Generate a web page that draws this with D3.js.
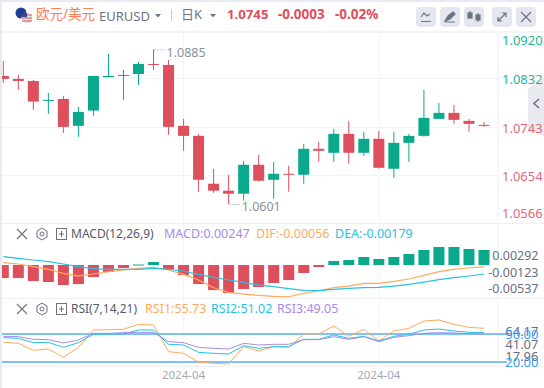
<!DOCTYPE html>
<html>
<head>
<meta charset="utf-8">
<script src="https://cdn.jsdelivr.net/npm/d3@7"></script>
<style>
html, body { margin: 0; padding: 0; background: #fff; overflow: hidden; }
text { font-family: "Noto Sans", "Noto Sans CJK SC", sans-serif; }
</style>
</head>
<body>
<div id="chart"></div>
<script>
const opens = [1.08361,1.08306,1.08269,1.07903,1.07939,1.07445,1.07725,1.08337,1.08361,1.08397,1.08581,1.08562,1.07445,1.07261,1.06382,1.06254,1.06199,1.0673,1.06455,1.06565,1.06547,1.07023,1.0695,1.07298,1.0695,1.07207,1.06657,1.07133,1.07261,1.07573,1.07683,1.07536,1.07463];
const closes = [1.08306,1.08269,1.0789,1.07921,1.07426,1.07701,1.08361,1.08361,1.08379,1.08581,1.08562,1.07426,1.07261,1.06455,1.06254,1.06199,1.0673,1.06437,1.06565,1.06547,1.07023,1.06987,1.07298,1.0695,1.07207,1.06675,1.07133,1.07261,1.07591,1.07683,1.07555,1.07481,1.07445];
const highs = [1.08635,1.08379,1.08287,1.08049,1.07994,1.07793,1.08361,1.08764,1.08471,1.08617,1.0885,1.08654,1.07573,1.07298,1.06657,1.06547,1.06803,1.06913,1.06785,1.06712,1.07115,1.07152,1.0739,1.07536,1.07335,1.07353,1.07335,1.07298,1.08104,1.07866,1.07829,1.07573,1.07518];
const lows = [1.08232,1.08104,1.07738,1.07665,1.07316,1.07243,1.07628,1.08337,1.07921,1.08196,1.08471,1.0728,1.06987,1.06236,1.06217,1.0601,1.06071,1.06419,1.06107,1.06236,1.06382,1.06785,1.06785,1.06749,1.06895,1.06657,1.06492,1.06785,1.07243,1.07573,1.07481,1.07335,1.07426];

const macdBars = [-.00215,-.00215,-.00264,-.0028,-.0033,-.00314,-.00198,-.00116,-.0005,.00008,.0005,-.00066,-.00165,-.00314,-.00413,-.00462,-.00396,-.00363,-.00297,-.00248,-.00132,-.00033,.00066,.00083,.00132,.00099,.00132,.00182,.00248,.00297,.00297,.00264,.00247];
const difLine = [.000385,.000165,-.000275,-.000715,-.001375,-.001815,-.001485,-.0011,-.000825,-.00055,-.000385,-.000825,-.00154,-.002475,-.00374,-.00451,-.004785,-.005005,-.00517,-.005225,-.004675,-.004235,-.00374,-.003465,-.003025,-.003025,-.002695,-.00231,-.001705,-.0011,-.000715,-.000495,-.000275];
const deaLine = [.001375,.0011,.000825,.00055,.000165,-.000275,-.000605,-.000715,-.000715,-.000715,-.00055,-.000715,-.00099,-.00154,-.002035,-.002475,-.00286,-.0033,-.003575,-.003905,-.00418,-.004235,-.004015,-.00385,-.00374,-.003685,-.003465,-.00319,-.002805,-.00242,-.00209,-.001815,-.001485];

const rsi1 = [41.07,40,32.5,33.93,25,35.71,54.29,54.64,55,60.36,59.64,31.07,29.29,19.64,18.57,17.86,36.43,31.79,36.43,35.71,50,50,58.57,47.5,55,42.5,53.21,56.07,63.93,65,60.36,57.14,56.07];
const rsi2 = [46.07,45.36,40.71,41.07,35.71,40.71,49.64,50,50,54.29,54.29,38.93,38.21,30.36,29.29,28.57,37.5,34.64,36.43,36.43,44.29,44.29,48.93,45.36,47.5,42.5,47.5,49.64,54.29,55.36,53.21,51.79,51.43];
const rsi3 = [47.5,47.14,44.29,43.93,40.36,43.57,50.71,50.71,51.43,51.79,51.79,41.79,40.71,35.71,34.64,33.93,40,38.21,38.93,38.93,43.93,43.93,47.14,44.29,47.14,41.79,46.43,48.21,50.71,51.43,51.07,50.36,49.64];
const rsiLevels = [50, 20];

const priceTicks = [1.0920, 1.0832, 1.0743, 1.0654, 1.0566];
const macdTicks = ["0.00292", "-0.00123", "-0.00537"];
const rsiTicks = ["64.17", "41.07", "17.96", "50.00", "20.00"];
const dateTicks = [{ i: 12, label: "2024-04" }, { i: 25, label: "2024-04" }];
const buttonXs = [416, 440, 464, 492, 516];

const width = 544, height = 388;
const UP = "#0aa98c", DOWN = "#dd4f5c";
const ORANGE = "#ffa95e", CYAN = "#27c3df", PURPLE = "#a78be6";
const GRID = "#f3f4f7";

const svg = d3.select("#chart").append("svg")
    .attr("width", width).attr("height", height)
    .style("display", "block");

const x = d3.scaleLinear().domain([0, 32]).range([3.3, 484]);
const y = d3.scaleLinear().domain([1.0885, 1.0601]).range([49.3, 204]);
const yMacd = d3.scaleLinear().domain([0, 0.00247]).range([265, 250]);
const yRsi = d3.scaleLinear().domain([20, 50]).range([362, 334]);
const yMacdTick = d3.scalePoint().domain(macdTicks).range([256, 289]);

// grid + panel frames
const grid = svg.append("g");
grid.selectAll(".h").data(priceTicks.slice(1, 4)).enter().append("line")
    .attr("x1", 2).attr("x2", 498)
    .attr("y1", d => Math.round(y(d)) + 0.5).attr("y2", d => Math.round(y(d)) + 0.5)
    .attr("stroke", GRID);
grid.selectAll(".v").data(dateTicks).enter().append("line")
    .attr("x1", d => x(d.i)).attr("x2", d => x(d.i))
    .attr("y1", 33).attr("y2", 366)
    .attr("stroke", GRID);
[223.5, 298.5, 366.5].forEach(v => {
    grid.append("line").attr("x1", 2).attr("x2", 544).attr("y1", v).attr("y2", v).attr("stroke", "#eff0f4");
});
grid.append("line").attr("x1", 498).attr("x2", 498).attr("y1", 33).attr("y2", 366).attr("stroke", "#eff0f4");
grid.append("line").attr("x1", 2).attr("x2", 544).attr("y1", 32).attr("y2", 32).attr("stroke", "#f3f4f7").attr("stroke-width", 2);

// candles
const idx = d3.range(opens.length);
const candle = svg.append("g").selectAll("g").data(idx).enter().append("g")
    .attr("fill", i => closes[i] >= opens[i] ? UP : DOWN)
    .attr("stroke", i => closes[i] >= opens[i] ? UP : DOWN);
candle.append("line")
    .attr("x1", i => x(i)).attr("x2", i => x(i))
    .attr("y1", i => y(highs[i])).attr("y2", i => y(lows[i]))
    .attr("stroke-width", 1);
candle.append("rect")
    .attr("x", i => x(i) - 5.5).attr("width", 11)
    .attr("y", i => y(Math.max(opens[i], closes[i])))
    .attr("height", i => Math.max(1, Math.abs(y(opens[i]) - y(closes[i]))))
    .attr("stroke", "none");

// high / low markers
const markers = [
    { i: d3.maxIndex(highs), v: d3.max(highs), label: "1.0885" },
    { i: d3.minIndex(lows), v: d3.min(lows), label: "1.0601" }
];
markers.forEach(m => {
    svg.append("line")
        .attr("x1", x(m.i) + 1).attr("x2", x(m.i) + 11)
        .attr("y1", y(m.v) + 0.5).attr("y2", y(m.v) + 0.5)
        .attr("stroke", "#8b8f9b").attr("stroke-dasharray", "1 2");
    svg.append("text")
        .attr("x", x(m.i) + 13).attr("y", y(m.v) + 3)
        .attr("dy", "0.35em")
        .attr("font-size", 12.5).attr("fill", "#8b8f9b")
        .text(m.label);
});

// collapse tab on the right
svg.append("path").attr("d", "M544,78 L528,88 L528,130 L544,136 Z").attr("fill", "#e9eaf0");
svg.append("path").attr("d", "M539,99 L534,103.5 L539,108").attr("fill", "none").attr("stroke", "#6e7380").attr("stroke-width", 1.6);

// price axis
svg.selectAll(".price").data(priceTicks).enter().append("text")
    .attr("x", 502)
    .attr("y", d => Math.max(40, Math.min(213, y(d) + 1.5)))
    .attr("dy", "0.35em")
    .attr("font-size", 13)
    .attr("fill", d => d > 1.0745 ? "#1fb59a" : "#e5677a")
    .text(d => d.toFixed(4));

// MACD
svg.append("g").selectAll("rect").data(macdBars).enter().append("rect")
    .attr("x", (d, i) => x(i) - 5.5).attr("width", 11)
    .attr("y", d => d > 0 ? yMacd(d) : yMacd(0))
    .attr("height", d => Math.max(1, Math.abs(yMacd(d) - yMacd(0))))
    .attr("fill", d => d > 0 ? UP : DOWN);
const macdLine = d3.line().x((d, i) => x(i)).y(d => yMacd(d));
svg.append("path").datum(difLine).attr("d", macdLine).attr("fill", "none").attr("stroke", ORANGE).attr("stroke-width", 1.2);
svg.append("path").datum(deaLine).attr("d", macdLine).attr("fill", "none").attr("stroke", CYAN).attr("stroke-width", 1.2);
svg.selectAll(".macdTick").data(macdTicks).enter().append("text")
    .attr("x", 538.5).attr("y", d => yMacdTick(d))
    .attr("dy", "0.35em").attr("text-anchor", "end")
    .attr("font-size", 12.5).attr("fill", "#6b7080")
    .text(d => d);

// RSI
svg.selectAll(".level").data(rsiLevels).enter().append("line")
    .attr("x1", 2).attr("x2", 507)
    .attr("y1", d => yRsi(d)).attr("y2", d => yRsi(d))
    .attr("stroke", "#7cc3f7").attr("stroke-width", 2);
const rsiLine = d3.line().x((d, i) => x(i)).y(d => yRsi(d));
[[rsi1, ORANGE], [rsi2, CYAN], [rsi3, PURPLE]].forEach(s => {
    svg.append("path").datum(s[0]).attr("d", rsiLine).attr("fill", "none").attr("stroke", s[1]).attr("stroke-width", 1);
});
// these labels overlap in the original, their places don't follow the scale
const rsiTickY = { "64.17": 331, "50.00": 334.5, "41.07": 344, "17.96": 356, "20.00": 362 };
svg.selectAll(".rsiTick").data(rsiTicks).enter().append("text")
    .attr("x", 538.5).attr("y", d => rsiTickY[d])
    .attr("dy", "0.35em").attr("text-anchor", "end")
    .attr("font-size", 13)
    .attr("fill", d => d === "50.00" || d === "20.00" ? "#3f9df2" : "#6b7080")
    .text(d => d);

// date labels
svg.selectAll(".date").data(dateTicks).enter().append("text")
    .attr("x", d => x(d.i)).attr("y", 374.5)
    .attr("dy", "0.35em").attr("text-anchor", "middle")
    .attr("font-size", 11.5).attr("fill", "#a6a9b3")
    .text(d => d.label);

// panel legends
function panelIcons(cy) {
    const g = svg.append("g").attr("fill", "none").attr("stroke", "#6e7380");
    g.append("path").attr("d", `M17,${cy - 5} L27,${cy + 5} M27,${cy - 5} L17,${cy + 5}`).attr("stroke-width", 1.1);
    g.append("path").attr("d", `M42,${cy - 6} L47,${cy - 3} L47,${cy + 3} L42,${cy + 6} L37,${cy + 3} L37,${cy - 3} Z`);
    g.append("circle").attr("cx", 42).attr("cy", cy).attr("r", 2);
    g.append("rect").attr("x", 56.5).attr("y", cy - 5.5).attr("width", 10).attr("height", 11);
    g.append("path").attr("d", `M59,${cy} L64,${cy} M61.5,${cy - 3} L61.5,${cy + 3}`);
}
function label(text, xPos, yPos, color, size, weight) {
    svg.append("text").attr("x", xPos).attr("y", yPos).attr("dy", "0.35em")
        .attr("font-size", size || 12.5).attr("font-weight", weight || 400)
        .attr("fill", color).text(text);
}
panelIcons(234);
label("MACD(12,26,9)", 71, 234, "#555a66", 12);
label("MACD:0.00247", 164, 234, PURPLE);
label("DIF:-0.00056", 256, 234, ORANGE);
label("DEA:-0.00179", 335, 234, CYAN);
panelIcons(309);
label("RSI(7,14,21)", 71, 309, "#555a66", 12);
label("RSI1:55.73", 145, 309, ORANGE);
label("RSI2:51.02", 211, 309, CYAN);
label("RSI3:49.05", 277, 309, PURPLE);

// header
svg.append("circle").attr("cx", 21).attr("cy", 13).attr("r", 5.5).attr("fill", "#1f3f94");
svg.append("circle").attr("cx", 27).attr("cy", 18).attr("r", 5.5).attr("fill", "#e8e3e6");
[15, 18, 21].forEach(v => {
    svg.append("line").attr("x1", 22).attr("x2", 32).attr("y1", v).attr("y2", v).attr("stroke", "#d9535f");
});
svg.append("rect").attr("x", 22).attr("y", 13).attr("width", 5).attr("height", 4).attr("fill", "#37477f");
label("欧元/美元", 36, 14.5, "#ff7d55", 13.5);
label("EURUSD", 99, 16, "#6f7482", 13);
svg.append("path").attr("d", "M155,14 L161,14 L158,17.5 Z").attr("fill", "#6f7482");
svg.append("line").attr("x1", 171.5).attr("x2", 171.5).attr("y1", 9).attr("y2", 21).attr("stroke", "#c9ccd4");
label("日K", 181, 14.5, "#6f7482", 13);
svg.append("path").attr("d", "M210,14 L216,14 L213,17.5 Z").attr("fill", "#6f7482");
label("1.0745", 227, 14.5, DOWN, 13.2, 700);
label("-0.0003", 278, 14.5, DOWN, 13.5, 700);
label("-0.02%", 335, 14.5, DOWN, 13.5, 700);

buttonXs.forEach(v => {
    svg.append("rect").attr("x", v).attr("y", 7).attr("width", 20).attr("height", 20).attr("rx", 4).attr("fill", "#e4e7ef");
});
const icon = svg.append("g").attr("fill", "none").attr("stroke", "#6e7380").attr("stroke-width", 1.2);
icon.append("path").attr("d", "M421,17 L424,13 L427,16 L430,14 M421,21.5 L431,21.5");
icon.append("path").attr("d", "M445,21 L448,16 L453,12 L455,14 L450,19 Z M445,22 L455,22").attr("fill", "#6e7380");
icon.append("path").attr("d", "M470,11 L470,19 M478,13 L478,22").attr("stroke-width", 1);
icon.append("rect").attr("x", 468).attr("y", 13).attr("width", 4).attr("height", 5).attr("fill", "#6e7380");
icon.append("rect").attr("x", 476).attr("y", 15).attr("width", 4).attr("height", 5).attr("fill", "#6e7380");
icon.append("path").attr("d", "M498,21 L506,13 M502,13 L506,13 L506,17 M498,17 L498,21 L502,21");
icon.append("path").attr("d", "M521,12 L531,22 M531,12 L521,22");

// page edge
svg.append("rect").attr("x", 0).attr("y", 0).attr("width", 2).attr("height", height).attr("fill", "#e8ebf3");
svg.append("rect").attr("x", 0).attr("y", 0).attr("width", width).attr("height", 2).attr("fill", "#e8ebf3");
</script>
</body>
</html>
